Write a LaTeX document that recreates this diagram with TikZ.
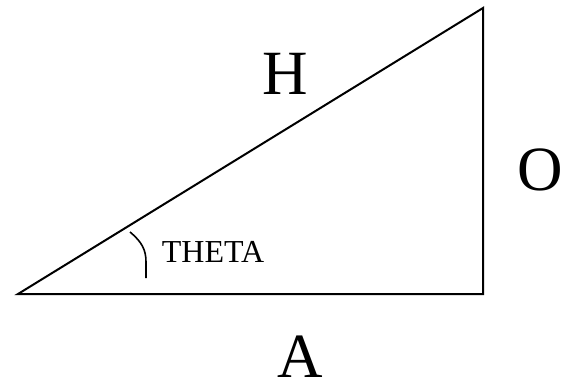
\documentclass[tikz,border=0pt]{standalone}
\usepackage{fontspec}
\setmainfont{Liberation Serif}
\usepackage{tikz}
\usetikzlibrary{positioning}

\begin{document}
\begin{tikzpicture}[
  x=1pt, y=-1pt,
  side/.style={line width=2pt, line join=miter},
  biglabel/.style={inner sep=0pt, font=\fontsize{63}{63}\selectfont},
  anglelabel/.style={inner sep=0pt, font=\fontsize{32}{32}\selectfont}
]
  \useasboundingbox (0,0) rectangle (562,386);
  \coordinate (left) at (18,294);
  \coordinate (corner) at (483,294);
  \coordinate (top) at (483,8);
  \draw[side] (left) -- (corner) -- (top) -- cycle;
  % angle mark
  \coordinate (markstart) at (130,232);
  \coordinate (markend) at (146,278);
  \draw[line width=1.6pt] (markstart) .. controls (142,242) and (146,250) .. (146,262) -- (markend);
  \node[biglabel] (hyp) at (285,74) {H};
  \node[biglabel] (opp) at (540,170) {O};
  \node[biglabel] (adj) at (300,357) {A};
  \node[anglelabel] (theta) at (213,252) {THETA};
\end{tikzpicture}
\end{document}
